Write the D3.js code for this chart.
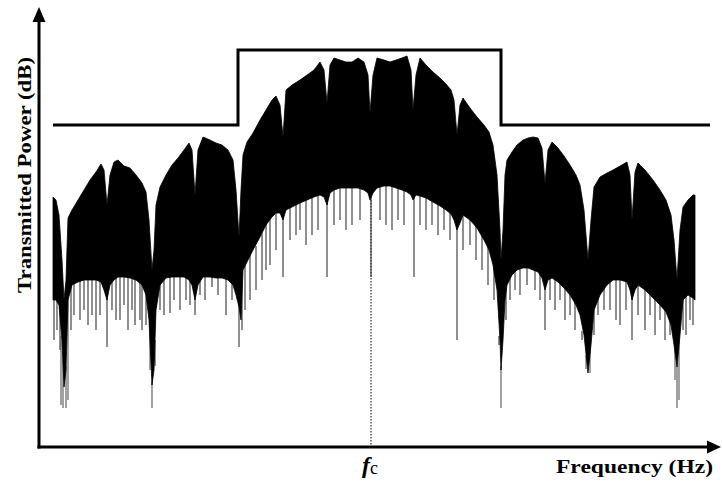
<!DOCTYPE html>
<html>
<head>
<meta charset="utf-8">
<script src="https://cdn.jsdelivr.net/npm/d3@7/dist/d3.min.js"></script>
<style>
  html, body { margin: 0; padding: 0; background: #fff; }
  svg { display: block; }
  text { font-family: "Liberation Serif", "DejaVu Serif", serif; fill: #000; }
</style>
</head>
<body>
<svg id="chart" width="722" height="484"></svg>
<script>
  //============================================================
  // Data (frequency offset from fc, power in dB)
  //------------------------------------------------------------

  var freq = [
    -31.8, -31.5, -31.2, -30.9, -30.7, -30.5, -30.3, -29.9, -29.3, -28.7, -28.1, -27.5, -27.0, -26.7, -26.4,
    -26.1, -25.7, -25.3, -24.7, -24.1, -23.5, -22.9, -22.5, -22.2, -21.9, -21.7, -21.5, -21.1, -20.5, -19.9,
    -19.3, -18.7, -18.2, -17.9, -17.6, -17.3, -16.8, -16.1, -15.5, -14.9, -14.3, -13.8, -13.5, -13.2, -13.0,
    -12.8, -12.4, -11.8, -11.1, -10.5, -9.9, -9.5, -9.1, -8.8, -8.5, -7.9, -7.1, -6.4, -5.7, -5.1,
    -4.7, -4.4, -4.1, -3.7, -3.1, -2.5, -1.9, -1.3, -0.7, -0.3, -0.1, 0.2, 0.6, 1.3, 1.9,
    2.5, 3.1, 3.6, 4.0, 4.2, 4.5, 4.9, 5.5, 6.2, 6.9, 7.5, 8.0, 8.3, 8.6, 8.9,
    9.2, 9.9, 10.6, 11.3, 11.8, 12.2, 12.6, 12.9, 13.0, 13.2, 13.4,
    13.6, 14.1, 14.6, 15.2, 15.7, 16.2, 16.7, 17.1, 17.4, 17.7, 18.1, 18.7, 19.3, 19.9, 20.5,
    20.9, 21.3, 21.7, 22.0, 22.3, 22.9, 23.6, 24.2, 24.9, 25.6, 25.9, 26.1, 26.4, 26.7, 27.4,
    28.2, 28.9, 29.5, 30.0, 30.3, 30.6, 30.9, 31.2, 31.7, 32.2, 32.4
  ];

  var peakPower = [
    -29.4, -30, -33, -42, -50, -46, -33.6, -32, -30, -28, -26, -24.4, -22.8, -24, -31,
    -25, -22.4, -22, -23.2, -23.6, -25, -26.6, -28.4, -34, -44, -40, -31, -27.4, -25, -23,
    -21.6, -20, -18.6, -20, -29, -20, -17.4, -18, -18.6, -19, -20, -22, -28, -37.4, -28,
    -21, -18.4, -16.6, -14, -12, -10, -9.2, -11, -17.4, -8, -7, -6, -5, -4, -2.4,
    -4, -10.6, -3, -1.6, -2, -2.4, -2.4, -1.6, -2.4, -5, -12.6, -5, -1.6, -2, -2.4,
    -2, -1.6, -1.2, -4, -12, -5, -1.6, -3, -4.4, -5.6, -6.8, -8, -10, -17, -11,
    -9.6, -11.6, -13.4, -15, -16.4, -19, -25, -36, -42, -36, -25,
    -22, -20.4, -19, -18, -17.6, -17.4, -17.6, -19.6, -26.6, -20, -18.4, -19.6, -21.2, -23, -25,
    -27, -32, -42, -34, -27.4, -25.4, -24.6, -24, -23.2, -22.4, -25, -34, -24.4, -22.6, -24,
    -26, -28, -30, -33, -38, -46, -36, -31.4, -30, -29, -29
  ];

  var floorPower = [
    -50, -50, -51, -58, -67.4, -64, -50, -47, -46.4, -46, -46, -46, -46.4, -48, -50,
    -47, -46, -45.4, -45.4, -45.6, -46, -47, -49, -54, -67, -64, -52, -47, -45.6, -45.4,
    -45.4, -45.4, -46, -47, -50, -47, -45.4, -45.4, -45.6, -45.6, -46, -47, -49, -51.4, -54,
    -44, -42.4, -40, -37.4, -35, -33.4, -32.6, -32.6, -34, -32, -31.4, -30.6, -30, -29.4, -29,
    -29.4, -31, -28.6, -28, -27.6, -27.6, -27.6, -27.6, -28, -28.6, -30, -28.6, -27.6, -27.2, -27.2,
    -27.6, -28, -28.4, -29, -30, -29, -29.2, -29.6, -30.4, -31.2, -32, -32.8, -34, -36, -34.6,
    -33, -34, -35.6, -38, -40, -43, -48, -58, -64, -58, -50,
    -47, -45, -44, -43.6, -43.6, -44, -44.4, -45.6, -48, -46, -45.6, -46.4, -47.6, -49, -51,
    -53, -57, -64.6, -59, -52, -49, -47, -46, -46, -46.4, -48, -50, -48, -47, -48,
    -49.6, -51, -52.4, -55, -59, -63.4, -57, -50, -49, -49.6, -50
  ];

  var spikeFreq = [
    -31.7, -31.4, -31.1, -31.0, -30.8, -30.5, -30.3, -30.0, -29.7, -29.1, -28.7, -28.3, -27.9, -27.5, -27.1,
    -26.4, -25.9, -25.5, -25.1, -24.7, -24.3, -23.9, -23.6, -23.1, -22.9, -22.5, -22.1, -21.9, -21.6, -21.1,
    -20.7, -20.1, -19.7, -19.1, -18.5, -18.1, -17.6, -17.1, -16.6, -15.9, -15.3, -14.5, -13.9, -13.2,
    -12.9, -12.6, -12.1, -11.5, -10.9, -10.5, -10.1, -9.5, -8.8, -8.1, -7.5, -7.1, -6.5, -5.9, -5.3,
    -4.4, -3.7, -3.1, -2.5, -1.9, -1.1, 0.0, 0.9, 1.5, 2.1, 2.7, 3.3, 4.3, 4.9, 5.5,
    6.1, 6.7, 7.3, 7.9, 8.6, 9.2, 9.9, 10.5, 11.1, 11.7, 12.3, 12.8, 13.0,
    13.5, 13.9, 14.4, 14.9, 15.6, 16.4, 16.9, 17.4, 17.9, 18.4, 18.9, 19.4, 19.9, 20.4, 21.1,
    21.5, 21.9, 22.3, 22.7, 23.3, 23.9, 24.5, 24.9, 25.5, 26.1, 26.7, 27.4, 27.9, 28.4, 28.9,
    29.4, 29.9, 30.4, 30.6, 30.8, 31.2, 31.5, 31.9, 32.2
  ];

  var spikePower = [
    -58, -56, -60, -71, -71.6, -71.6, -70, -56, -53, -54, -52, -55, -53, -56, -53,
    -59.4, -52, -54, -54, -51, -56, -52, -55, -54, -56, -55, -64, -71.6, -58, -52,
    -53, -52.6, -50, -52, -50, -51, -53, -49, -50, -47.4, -49, -53, -50, -59.4,
    -56, -52, -50, -48, -46, -44, -43, -40, -45.4, -38, -37, -36, -39, -37, -36,
    -45.4, -35, -34, -36, -35, -34, -45.4, -34, -35, -36, -34, -35, -45.4, -35, -36,
    -35, -37, -36, -38, -58, -40, -39, -42, -44, -47, -50, -59, -71.6,
    -54, -50, -48, -49, -47, -48, -50, -56, -50, -52, -50, -54, -53, -56, -58,
    -61, -64.6, -57, -53, -52, -52, -54, -55, -52, -58, -53, -56, -53, -57, -54,
    -58, -57, -66, -71.6, -70, -56, -57, -54, -55
  ];

  var maskFreq = [-31.8, -13.3, -13.3, 13.0, 13.0, 33.9];
  var maskPower = [-15, -15, 0, 0, -15, -15];

  var yLabel = 'Transmitted Power (dB)';
  var xLabel = 'Frequency (Hz)';

  //============================================================
  // Setup
  //------------------------------------------------------------

  var svg = d3.select('#chart');

  var x = d3.scaleLinear().domain([-33.2, 35.0]).range([39, 721]);
  var y = d3.scaleLinear().domain([-79.4, 0]).range([447, 50]);

  var spectrum = freq.map(function (f, i) {
    return {f: f, hi: peakPower[i], lo: floorPower[i]};
  });

  var bisect = d3.bisector(function (d) { return d.f; }).center;

  // fc marker line (dotted)
  svg.append('line')
      .attr('x1', x(0)).attr('x2', x(0))
      .attr('y1', y(-30)).attr('y2', y(-79.4))
      .attr('stroke', '#000')
      .attr('stroke-width', 1)
      .style('stroke-dasharray', '1.5,1.5');

  // thin spikes below the dense band
  svg.append('g').selectAll('line')
      .data(spikeFreq)
    .enter().append('line')
      .attr('x1', function (f) { return x(f); })
      .attr('x2', function (f) { return x(f); })
      .attr('y1', function (f) { return y(spectrum[bisect(spectrum, f)].lo) - 4; })
      .attr('y2', function (f, i) { return y(spikePower[i]); })
      .attr('stroke', function (f, i) { return spikePower[i] < -60 ? '#555' : '#333'; })
      .attr('stroke-width', 1.1);

  // dense spectrum band
  var band = d3.area()
      .x(function (d) { return x(d.f); })
      .y0(function (d) { return y(d.lo); })
      .y1(function (d) { return y(d.hi); });

  svg.append('path')
      .datum(spectrum)
      .attr('d', band)
      .attr('fill', '#000')
      .attr('stroke', '#000')
      .attr('stroke-width', 0.8);

  // spectral mask
  var mask = d3.line()
      .x(function (d) { return x(d[0]); })
      .y(function (d) { return y(d[1]); });

  svg.append('path')
      .datum(d3.zip(maskFreq, maskPower))
      .attr('d', mask)
      .attr('fill', 'none')
      .attr('stroke', '#000')
      .attr('stroke-width', 3)
      .attr('stroke-linejoin', 'miter');

  //============================================================
  // Axes with arrows
  //------------------------------------------------------------

  var x0 = x.range()[0], yb = y.range()[0];

  svg.append('line')
      .attr('x1', x0).attr('x2', x0)
      .attr('y1', yb + 1.5).attr('y2', 20)
      .attr('stroke', '#000').attr('stroke-width', 3);
  svg.append('path')
      .attr('d', 'M' + x0 + ',7L' + (x0 - 6.5) + ',22L' + (x0 + 6.5) + ',22Z')
      .attr('fill', '#000');

  svg.append('line')
      .attr('x1', x0 - 1.5).attr('x2', 710)
      .attr('y1', yb).attr('y2', yb)
      .attr('stroke', '#000').attr('stroke-width', 3);
  svg.append('path')
      .attr('d', 'M721,' + yb + 'L707,' + (yb - 6.5) + 'L707,' + (yb + 6.5) + 'Z')
      .attr('fill', '#000');

  svg.append('text')
      .attr('transform', 'translate(31,175) rotate(-90)')
      .attr('text-anchor', 'middle')
      .attr('font-size', 18)
      .attr('font-weight', 'bold')
      .attr('fill', '#000')
      .attr('textLength', 236)
      .attr('lengthAdjust', 'spacingAndGlyphs')
      .text(yLabel);

  svg.append('text')
      .attr('x', 556).attr('y', 473)
      .attr('font-size', 18)
      .attr('font-weight', 'bold')
      .attr('fill', '#000')
      .attr('textLength', 157)
      .attr('lengthAdjust', 'spacingAndGlyphs')
      .text(xLabel);

  var fc = svg.append('text')
      .attr('x', x(0) - 9).attr('y', 473)
      .attr('fill', '#000');
  fc.append('tspan')
      .attr('font-size', 24)
      .attr('font-style', 'italic')
      .attr('font-weight', 'bold')
      .text('f');
  fc.append('tspan')
      .attr('font-size', 18)
      .attr('dx', 0)
      .attr('dy', 1)
      .text('c');
</script>
</body>
</html>
